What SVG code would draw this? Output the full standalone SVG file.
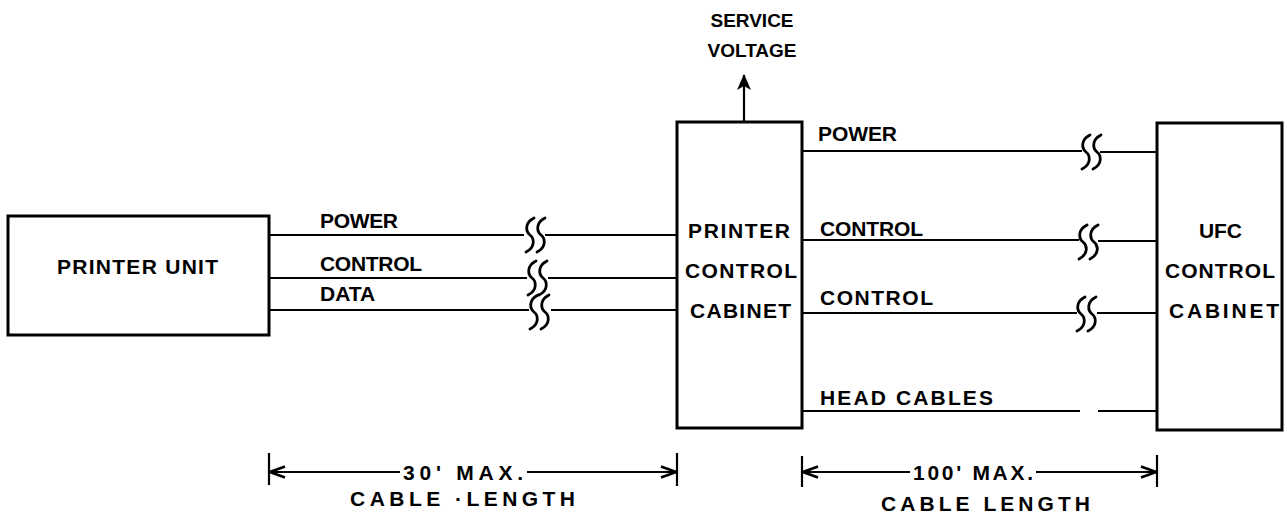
<svg xmlns="http://www.w3.org/2000/svg" width="1287" height="519" viewBox="0 0 1287 519">
<style>
.box{fill:none;stroke:#000;stroke-width:3}
.ln{fill:none;stroke:#000;stroke-width:2.2}
.brk{fill:none;stroke:#000;stroke-width:2.8;stroke-linecap:round}
.t{font-family:"Liberation Sans",Arial,sans-serif;font-weight:bold;font-size:21px;fill:#000}
.s{font-size:19px;text-anchor:middle}
</style>
<defs>
<marker id="dimArr" markerWidth="18" markerHeight="14" refX="16" refY="7" orient="auto-start-reverse" markerUnits="userSpaceOnUse">
<path d="M1,1.5 L16,7 L1,12.5" fill="none" stroke="#000" stroke-width="2.6"/>
</marker>
<marker id="upArr" markerWidth="16" markerHeight="16" refX="15" refY="7" orient="auto" markerUnits="userSpaceOnUse">
<path d="M0,0 L16,7 L0,14 L4,7 z" fill="#000"/>
</marker>
<path id="bm" d="M4,-17 C-6,-12 -4,-3 0,0 C4,3 6,12 -4,17"/>
</defs>

<g id="printer-unit">
<rect class="box" x="8" y="216" width="261" height="119"/>
<text class="t" x="57" y="274" textLength="161" lengthAdjust="spacing">PRINTER UNIT</text>
</g>

<g id="printer-control-cabinet">
<rect class="box" x="677" y="122" width="125" height="306"/>
<text class="t" x="688" y="238" textLength="102" lengthAdjust="spacing">PRINTER</text>
<text class="t" x="685" y="278" textLength="112" lengthAdjust="spacing">CONTROL</text>
<text class="t" x="690" y="318" textLength="101" lengthAdjust="spacing">CABINET</text>
</g>

<g id="ufc-control-cabinet">
<rect class="box" x="1157" y="123" width="125" height="307"/>
<text class="t" x="1199" y="238" textLength="43" lengthAdjust="spacing">UFC</text>
<text class="t" x="1165" y="278" textLength="110" lengthAdjust="spacing">CONTROL</text>
<text class="t" x="1169" y="318" textLength="110" lengthAdjust="spacing">CABINET</text>
</g>

<g id="service-voltage">
<text class="t s" x="752" y="27">SERVICE</text>
<text class="t s" x="752" y="57">VOLTAGE</text>
</g>

<g id="connectors">
<line class="ln" x1="744" y1="122" x2="744" y2="75" marker-end="url(#upArr)"/>

<text class="t" x="320" y="228" textLength="78" lengthAdjust="spacing">POWER</text>
<line class="ln" x1="269" y1="235" x2="524" y2="235"/>
<line class="ln" x1="545" y1="235" x2="677" y2="235"/>
<use href="#bm" class="brk" x="530" y="235"/>
<use href="#bm" class="brk" x="541" y="235"/>

<text class="t" x="320" y="271" textLength="102" lengthAdjust="spacing">CONTROL</text>
<line class="ln" x1="269" y1="278" x2="527" y2="278"/>
<line class="ln" x1="548" y1="278" x2="677" y2="278"/>
<use href="#bm" class="brk" x="532" y="278"/>
<use href="#bm" class="brk" x="543" y="278"/>

<text class="t" x="320" y="301">DATA</text>
<line class="ln" x1="269" y1="310" x2="529" y2="310"/>
<line class="ln" x1="551" y1="310" x2="677" y2="310"/>
<use href="#bm" class="brk" x="534" y="312"/>
<use href="#bm" class="brk" x="545" y="312"/>

<text class="t" x="818" y="141" textLength="79" lengthAdjust="spacing">POWER</text>
<line class="ln" x1="802" y1="151" x2="1082" y2="151"/>
<line class="ln" x1="1100" y1="152" x2="1157" y2="152"/>
<use href="#bm" class="brk" x="1086" y="152"/>
<use href="#bm" class="brk" x="1097" y="152"/>

<text class="t" x="820" y="236" textLength="103" lengthAdjust="spacing">CONTROL</text>
<line class="ln" x1="802" y1="240" x2="1079" y2="240"/>
<line class="ln" x1="1098" y1="241" x2="1157" y2="241"/>
<use href="#bm" class="brk" x="1083" y="242"/>
<use href="#bm" class="brk" x="1094" y="242"/>

<text class="t" x="820" y="305" textLength="113" lengthAdjust="spacing">CONTROL</text>
<line class="ln" x1="802" y1="313" x2="1077" y2="313"/>
<line class="ln" x1="1097" y1="313" x2="1157" y2="313"/>
<use href="#bm" class="brk" x="1081" y="314"/>
<use href="#bm" class="brk" x="1092" y="314"/>

<text class="t" x="820" y="405" textLength="173" lengthAdjust="spacing">HEAD CABLES</text>
<line class="ln" x1="802" y1="411" x2="1080" y2="411"/>
<line class="ln" x1="1098" y1="411" x2="1157" y2="411"/>

<line class="ln" x1="269" y1="453" x2="269" y2="485"/>
<line class="ln" x1="677" y1="453" x2="677" y2="486"/>
<line class="ln" x1="270" y1="472" x2="400" y2="472" marker-start="url(#dimArr)"/>
<line class="ln" x1="527" y1="472" x2="676" y2="472" marker-end="url(#dimArr)"/>
<text class="t" x="403" y="480" textLength="120" lengthAdjust="spacing">30' MAX.</text>
<text class="t" x="350" y="506" textLength="225" lengthAdjust="spacing">CABLE ·LENGTH</text>

<line class="ln" x1="802" y1="456" x2="802" y2="487"/>
<line class="ln" x1="1157" y1="455" x2="1157" y2="487"/>
<line class="ln" x1="803" y1="472" x2="910" y2="472" marker-start="url(#dimArr)"/>
<line class="ln" x1="1036" y1="472" x2="1156" y2="472" marker-end="url(#dimArr)"/>
<text class="t" x="913" y="480" textLength="120" lengthAdjust="spacing">100' MAX.</text>
<text class="t" x="881" y="511" textLength="209" lengthAdjust="spacing">CABLE LENGTH</text>
</g>
</svg>
